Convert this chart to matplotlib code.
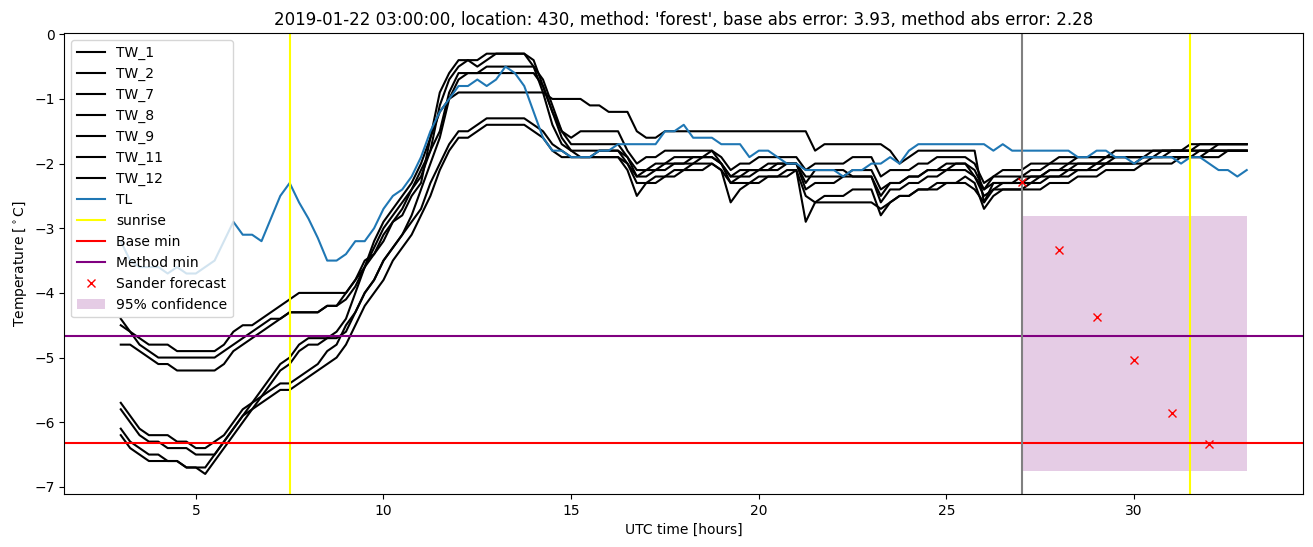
import numpy as np
import matplotlib.pyplot as plt

# time axis: 03:00 to 33:00 (next day 09:00), every 15 minutes
hours = 3 + np.arange(121) / 4

# one row per hour (:00, :15, :30, :45), last value is 33:00
tw_1 = [
    -4.4, -4.6, -4.7, -4.8,  -4.8, -4.8, -4.9, -4.9,  -4.9, -4.9, -4.9, -4.8,
    -4.6, -4.5, -4.5, -4.4,  -4.3, -4.2, -4.1, -4.0,  -4.0, -4.0, -4.0, -4.0,
    -4.0, -3.8, -3.5, -3.4,  -3.2, -2.9, -2.8, -2.5,  -2.3, -1.6, -0.9, -0.6,
    -0.4, -0.4, -0.5, -0.4,  -0.3, -0.3, -0.3, -0.3,  -0.5, -0.9, -1.4, -1.7,
    -1.8, -1.8, -1.8, -1.8,  -1.8, -1.8, -1.9, -2.2,  -2.2, -2.1, -2.1, -2.0,
    -2.0, -2.0, -1.9, -1.9,  -2.0, -2.2, -2.2, -2.1,  -2.1, -2.1, -2.0, -2.0,
    -2.0, -2.3, -2.1, -2.1,  -2.1, -2.1, -2.2, -2.2,  -2.2, -2.5, -2.3, -2.3,
    -2.2, -2.2, -2.1, -2.1,  -2.0, -2.0, -2.0, -2.2,  -2.4, -2.2, -2.2, -2.2,
    -2.2, -2.1, -2.1, -2.0,  -2.0, -2.0, -1.9, -1.9,  -1.9, -1.9, -1.9, -1.9,
    -1.9, -1.9, -1.9, -1.8,  -1.8, -1.8, -1.8, -1.8,  -1.8, -1.7, -1.7, -1.7,
    -1.7]
tw_2 = [
    -4.5, -4.6, -4.8, -4.9,  -5.0, -5.0, -5.0, -5.0,  -5.0, -5.0, -5.0, -4.9,
    -4.8, -4.7, -4.6, -4.5,  -4.4, -4.4, -4.3, -4.3,  -4.3, -4.3, -4.2, -4.2,
    -4.0, -3.8, -3.6, -3.2,  -2.9, -2.7, -2.5, -2.3,  -2.0, -1.6, -1.2, -1.0,
    -0.9, -0.9, -0.9, -0.9,  -0.9, -0.9, -0.9, -0.9,  -0.9, -0.9, -1.0, -1.0,
    -1.0, -1.0, -1.1, -1.1,  -1.2, -1.2, -1.2, -1.5,  -1.6, -1.6, -1.5, -1.5,
    -1.5, -1.5, -1.5, -1.5,  -1.5, -1.5, -1.5, -1.5,  -1.5, -1.5, -1.5, -1.5,
    -1.5, -1.5, -1.8, -1.7,  -1.7, -1.7, -1.7, -1.7,  -1.7, -1.7, -1.8, -2.0,
    -1.9, -1.8, -1.8, -1.8,  -1.8, -1.8, -1.8, -1.8,  -2.6, -2.3, -2.3, -2.3,
    -2.2, -2.2, -2.2, -2.1,  -2.1, -2.0, -2.0, -2.0,  -2.0, -1.9, -1.9, -1.9,
    -1.9, -1.9, -1.8, -1.8,  -1.8, -1.8, -1.8, -1.7,  -1.7, -1.7, -1.7, -1.7,
    -1.7]
tw_7 = [
    -4.8, -4.8, -4.9, -5.0,  -5.1, -5.1, -5.2, -5.2,  -5.2, -5.2, -5.2, -5.1,
    -4.9, -4.8, -4.7, -4.6,  -4.5, -4.4, -4.3, -4.3,  -4.3, -4.3, -4.2, -4.2,
    -4.1, -3.9, -3.6, -3.4,  -3.1, -2.9, -2.7, -2.4,  -2.1, -1.8, -1.5, -0.9,
    -0.6, -0.6, -0.6, -0.5,  -0.5, -0.5, -0.5, -0.5,  -0.5, -0.7, -1.1, -1.5,
    -1.7, -1.7, -1.7, -1.7,  -1.7, -1.7, -1.9, -2.1,  -2.1, -2.0, -2.0, -1.9,
    -1.9, -1.9, -1.9, -1.8,  -2.0, -2.3, -2.2, -2.2,  -2.1, -2.1, -2.1, -2.0,
    -2.0, -2.4, -2.3, -2.3,  -2.3, -2.2, -2.2, -2.2,  -2.2, -2.6, -2.4, -2.4,
    -2.3, -2.3, -2.2, -2.2,  -2.1, -2.1, -2.1, -2.2,  -2.5, -2.4, -2.3, -2.3,
    -2.3, -2.2, -2.2, -2.1,  -2.1, -2.1, -2.0, -2.0,  -2.0, -2.0, -1.9, -1.9,
    -1.9, -1.9, -1.9, -1.9,  -1.8, -1.8, -1.8, -1.8,  -1.8, -1.8, -1.8, -1.8,
    -1.8]
tw_8 = [
    -6.1, -6.3, -6.4, -6.5,  -6.5, -6.6, -6.6, -6.7,  -6.7, -6.7, -6.5, -6.3,
    -6.1, -5.9, -5.7, -5.5,  -5.3, -5.1, -5.0, -4.8,  -4.7, -4.7, -4.7, -4.6,
    -4.4, -4.0, -3.6, -3.3,  -3.0, -2.8, -2.6, -2.4,  -2.2, -1.8, -1.1, -0.7,
    -0.5, -0.4, -0.4, -0.3,  -0.3, -0.3, -0.3, -0.3,  -0.4, -0.8, -1.2, -1.5,
    -1.6, -1.5, -1.5, -1.5,  -1.5, -1.5, -1.8, -2.0,  -1.9, -1.9, -1.8, -1.8,
    -1.8, -1.8, -1.8, -1.8,  -1.9, -2.1, -2.0, -2.0,  -1.9, -1.9, -1.9, -1.9,
    -1.9, -2.1, -2.0, -2.0,  -2.0, -2.0, -1.9, -1.9,  -1.9, -2.2, -2.1, -2.1,
    -2.1, -2.0, -2.0, -1.9,  -1.9, -1.9, -1.9, -2.0,  -2.3, -2.2, -2.1, -2.1,
    -2.1, -2.0, -2.0, -2.0,  -1.9, -1.9, -1.9, -1.9,  -1.9, -1.9, -1.8, -1.8,
    -1.8, -1.8, -1.8, -1.8,  -1.8, -1.8, -1.7, -1.7,  -1.7, -1.7, -1.7, -1.7,
    -1.7]
tw_9 = [
    -6.2, -6.4, -6.5, -6.6,  -6.6, -6.6, -6.6, -6.7,  -6.7, -6.8, -6.6, -6.4,
    -6.2, -6.0, -5.8, -5.6,  -5.4, -5.2, -5.1, -4.9,  -4.8, -4.8, -4.7, -4.7,
    -4.6, -4.3, -4.0, -3.8,  -3.5, -3.3, -3.1, -2.8,  -2.4, -2.0, -1.6, -1.0,
    -0.7, -0.6, -0.6, -0.6,  -0.6, -0.6, -0.6, -0.6,  -0.6, -0.8, -1.2, -1.6,
    -1.8, -1.9, -1.9, -1.9,  -1.9, -1.9, -2.0, -2.3,  -2.3, -2.2, -2.2, -2.1,
    -2.1, -2.0, -2.0, -2.0,  -2.1, -2.6, -2.4, -2.3,  -2.2, -2.2, -2.2, -2.1,
    -2.1, -2.9, -2.6, -2.5,  -2.5, -2.5, -2.4, -2.4,  -2.4, -2.8, -2.6, -2.5,
    -2.5, -2.4, -2.4, -2.3,  -2.3, -2.3, -2.2, -2.3,  -2.7, -2.5, -2.4, -2.4,
    -2.4, -2.3, -2.3, -2.2,  -2.2, -2.2, -2.1, -2.1,  -2.1, -2.0, -2.0, -2.0,
    -2.0, -1.9, -1.9, -1.9,  -1.9, -1.9, -1.9, -1.8,  -1.8, -1.8, -1.8, -1.8,
    -1.8]
tw_11 = [
    -5.7, -5.9, -6.1, -6.2,  -6.2, -6.2, -6.3, -6.3,  -6.4, -6.4, -6.3, -6.2,
    -6.0, -5.8, -5.7, -5.6,  -5.5, -5.4, -5.4, -5.3,  -5.2, -5.1, -4.9, -4.8,
    -4.5, -4.3, -4.0, -3.8,  -3.5, -3.3, -3.1, -2.9,  -2.7, -2.3, -2.0, -1.7,
    -1.5, -1.5, -1.4, -1.3,  -1.3, -1.3, -1.3, -1.3,  -1.4, -1.5, -1.7, -1.8,
    -1.9, -1.9, -1.9, -1.8,  -1.8, -1.8, -2.0, -2.2,  -2.1, -2.1, -2.0, -2.0,
    -2.0, -1.9, -1.9, -1.9,  -2.0, -2.2, -2.1, -2.1,  -2.1, -2.0, -2.0, -2.0,
    -2.0, -2.2, -2.2, -2.2,  -2.2, -2.2, -2.1, -2.1,  -2.1, -2.4, -2.3, -2.3,
    -2.2, -2.2, -2.1, -2.1,  -2.1, -2.0, -2.0, -2.1,  -2.4, -2.3, -2.3, -2.3,
    -2.3, -2.3, -2.2, -2.2,  -2.2, -2.1, -2.1, -2.1,  -2.0, -2.0, -2.0, -2.0,
    -2.0, -2.0, -1.9, -1.9,  -1.9, -1.9, -1.9, -1.9,  -1.8, -1.8, -1.8, -1.8,
    -1.8]
tw_12 = [
    -5.8, -6.0, -6.2, -6.3,  -6.3, -6.4, -6.4, -6.4,  -6.5, -6.5, -6.5, -6.3,
    -6.1, -5.9, -5.8, -5.7,  -5.6, -5.5, -5.5, -5.4,  -5.3, -5.2, -5.1, -5.0,
    -4.8, -4.5, -4.2, -4.0,  -3.8, -3.5, -3.3, -3.1,  -2.8, -2.5, -2.1, -1.8,
    -1.6, -1.6, -1.5, -1.4,  -1.4, -1.4, -1.4, -1.4,  -1.5, -1.6, -1.8, -1.9,
    -1.9, -1.9, -1.9, -1.9,  -1.9, -1.9, -2.1, -2.5,  -2.3, -2.3, -2.2, -2.2,
    -2.1, -2.1, -2.1, -2.0,  -2.1, -2.3, -2.3, -2.3,  -2.3, -2.2, -2.2, -2.2,
    -2.1, -2.5, -2.6, -2.6,  -2.6, -2.6, -2.6, -2.6,  -2.6, -2.7, -2.6, -2.5,
    -2.5, -2.4, -2.4, -2.4,  -2.3, -2.3, -2.3, -2.4,  -2.6, -2.4, -2.4, -2.4,
    -2.4, -2.4, -2.4, -2.3,  -2.3, -2.3, -2.2, -2.2,  -2.2, -2.1, -2.1, -2.1,
    -2.1, -2.0, -2.0, -2.0,  -2.0, -1.9, -1.9, -1.9,  -1.9, -1.9, -1.8, -1.8,
    -1.8]
tl = [
    -3.2, -3.5, -3.6, -3.6,  -3.6, -3.7, -3.6, -3.7,  -3.7, -3.6, -3.5, -3.2,
    -2.9, -3.1, -3.1, -3.2,  -2.85, -2.5, -2.3, -2.6,  -2.85, -3.15, -3.5, -3.5,
    -3.4, -3.2, -3.2, -3.0,  -2.7, -2.5, -2.4, -2.2,  -1.9, -1.5, -1.2, -1.0,
    -0.8, -0.8, -0.7, -0.8,  -0.7, -0.5, -0.6, -0.8,  -1.2, -1.6, -1.8, -1.8,
    -1.9, -1.9, -1.9, -1.8,  -1.8, -1.7, -1.7, -1.7,  -1.7, -1.7, -1.5, -1.5,
    -1.4, -1.6, -1.6, -1.6,  -1.7, -1.7, -1.7, -1.9,  -1.8, -1.8, -1.9, -2.0,
    -2.0, -2.1, -2.1, -2.1,  -2.1, -2.2, -2.1, -2.1,  -2.0, -2.0, -1.9, -2.0,
    -1.8, -1.7, -1.7, -1.7,  -1.7, -1.7, -1.7, -1.7,  -1.7, -1.8, -1.7, -1.8,
    -1.8, -1.8, -1.8, -1.8,  -1.8, -1.8, -1.9, -1.9,  -1.8, -1.8, -1.9, -1.9,
    -2.0, -1.9, -1.9, -1.9,  -1.9, -2.0, -1.9, -1.9,  -2.0, -2.1, -2.1, -2.2,
    -2.1]

tw_names = ['TW_1', 'TW_2', 'TW_7', 'TW_8', 'TW_9', 'TW_11', 'TW_12']
tw_data = [tw_1, tw_2, tw_7, tw_8, tw_9, tw_11, tw_12]

sunrise = [7.5, 31.5]
forecast_start = 27
base_min = -6.315
method_min = -4.665

# Sander forecast
fc_hours = [27, 28, 29, 30, 31, 32]
fc_temp = [-2.29, -3.33, -4.38, -5.04, -5.86, -6.33]

# 95% confidence band
conf_hours = [27, 33]
conf_low = [-6.75, -6.75]
conf_high = [-2.81, -2.81]

fig = plt.figure(figsize=(13.13, 5.47), dpi=100)
ax = fig.add_axes([0.0491, 0.0969, 0.9433, 0.8428])

for name, vals in zip(tw_names, tw_data):
    ax.plot(hours, vals, color='black', label=name)
ax.plot(hours, tl, label='TL')

ax.axvline(sunrise[0], color='yellow', label='sunrise')
ax.axvline(sunrise[1], color='yellow')
ax.axhline(base_min, color='red', label='Base min')
ax.axhline(method_min, color='purple', label='Method min')
ax.axvline(forecast_start, color='gray')
ax.plot(fc_hours, fc_temp, 'x', color='red', label='Sander forecast')
ax.fill_between(conf_hours, conf_low, conf_high, color='purple', alpha=0.2,
                linewidth=0, label='95% confidence')

ax.set_xlim(1.5, 34.5)
ax.set_ylim(-7.11, 0.02)
ax.set_xlabel('UTC time [hours]')
ax.set_ylabel('Temperature [$^\\circ$C]')
ax.set_title("2019-01-22 03:00:00, location: 430, method: 'forest', "
             "base abs error: 3.93, method abs error: 2.28")
ax.legend(loc='upper left')

fig.savefig('out.png')
